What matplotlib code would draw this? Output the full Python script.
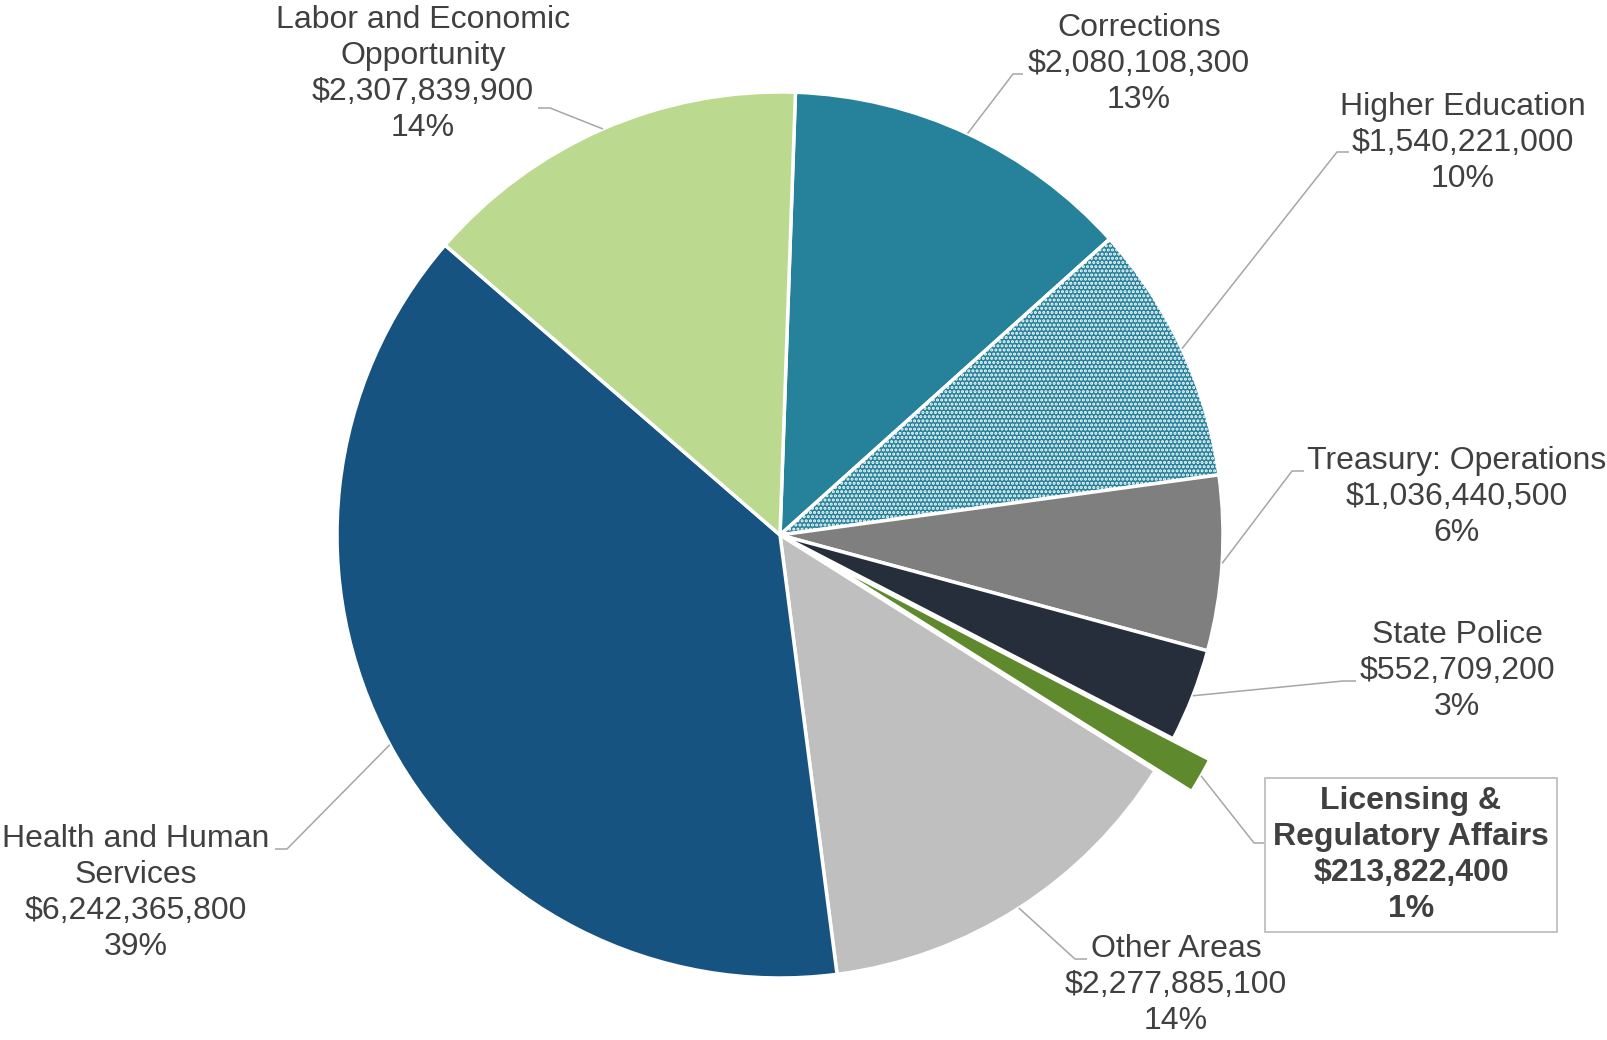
import matplotlib.pyplot as plt
import numpy as np

plt.rcParams.update({
    "font.family": ["Liberation Sans", "DejaVu Sans"],
    "font.size": 23,
    "hatch.linewidth": 1.5,
    "hatch.color": "white",
})

# data, clockwise from the top
areas = ["Corrections", "Higher Education", "Treasury: Operations", "State Police",
         "Licensing &\nRegulatory Affairs", "Other Areas",
         "Health and Human\nServices", "Labor and Economic\nOpportunity"]
amounts = [2080108300, 1540221000, 1036440500, 552709200,
           213822400, 2277885100, 6242365800, 2307839900]
colors = ["#26829B", "#26829B", "#7F7F7F", "#262D3B",
          "#5E8A2D", "#BFBFBF", "#175380", "#BBDA8F"]
hatches = [None, "....", None, None, None, None, None, None]
explode = [0, 0, 0, 0, 0.095, 0, 0, 0]   # fraction of the radius

# label layout (pixel positions on the 1608x1040 canvas, y measured from the top)
label_xy = [(1139, 64), (1463, 143), (1457, 497), (1457, 671),
            (1411, 855), (1176, 985), (136, 893), (423, 74)]
elbows = [((1013, 74), (1023, 74)), ((1337, 152), (1349, 152)),
          ((1292, 471), (1304, 471)), ((1343, 681), (1356, 681)),
          ((1254, 843), (1266, 843)), ((1075, 959), (1087, 959)),
          ((287, 849), (275, 849)), ((550, 108), (538, 108))]

W, H = 1608, 1040
cx, cy, R = 780, 535, 443


def excel_percents(vals):
    # whole percents that add up to 100 (largest remainder), like Excel labels
    raw = np.array(vals, dtype=float) / sum(vals) * 100
    out = np.floor(raw).astype(int)
    short = 100 - out.sum()
    for j in np.argsort(-(raw - out))[:short]:
        out[j] += 1
    return out


fig = plt.figure(figsize=(W / 100, H / 100), dpi=100)
ax = fig.add_axes([0, 0, 1, 1])

# matplotlib's explode is in data units, so scale it by the radius
wedges, _ = ax.pie(amounts, colors=colors, explode=[e * R for e in explode],
                   startangle=-88, counterclock=True, center=(cx, cy), radius=R,
                   wedgeprops=dict(edgecolor="white", linewidth=2.5))
for w, h in zip(wedges, hatches):
    if h:
        w.set_hatch(h)

# pie() sets its own limits, so set ours afterwards
ax.set_xlim(0, W)
ax.set_ylim(H, 0)  # y downwards, so angles run clockwise on screen
ax.set_aspect("equal")
ax.axis("off")

pcts = excel_percents(amounts)
txt_color = "#404040"
line_color = "#A6A6A6"
for i, w in enumerate(wedges):
    mid = np.deg2rad((w.theta1 + w.theta2) / 2)
    wx, wy = w.center
    px, py = wx + R * np.cos(mid), wy + R * np.sin(mid)
    (ex, ey), (tx, ty) = elbows[i]
    ax.plot([px, ex, tx], [py, ey, ty], color=line_color, lw=1.1,
            solid_capstyle="butt", zorder=1)

    s = f"{areas[i]}\n${amounts[i]:,}\n{pcts[i]}%"
    lx, ly = label_xy[i]
    if explode[i]:
        ax.text(lx, ly, s, ha="center", va="center", color=txt_color,
                fontweight="bold", linespacing=1.27,
                bbox=dict(boxstyle="square,pad=0.25", fc="white",
                          ec="#BFBFBF", lw=1.3))
    else:
        ax.text(lx, ly, s, ha="center", va="center", color=txt_color,
                linespacing=1.27)

fig.savefig("out.png", dpi=100)
